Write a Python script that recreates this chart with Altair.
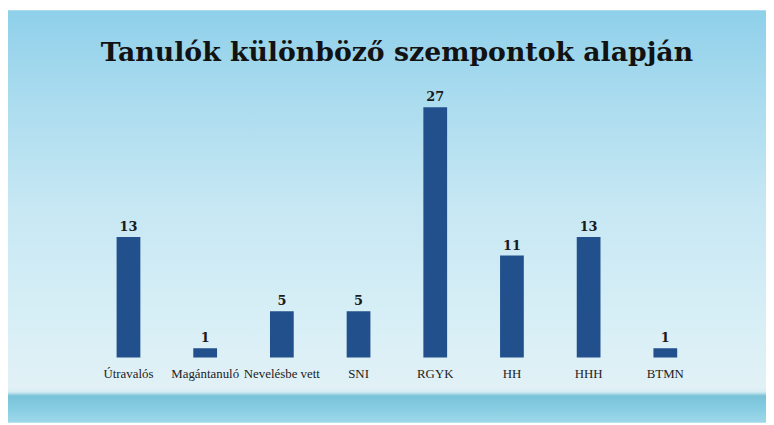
import altair as alt
import pandas as pd

categories = ["Útravalós", "Magántanuló", "Nevelésbe vett", "SNI", "RGYK", "HH", "HHH", "BTMN"]
values = [13, 1, 5, 5, 27, 11, 13, 1]
title_text = "Tanulók különböző szempontok alapján"

df = pd.DataFrame({"kategoria": categories, "ertek": values})

W, H = 620, 253
PAD_L, PAD_T = 83, 98
TOT_W, TOT_H = 766, 417

x = alt.X("kategoria:N", sort=categories,
          scale=alt.Scale(paddingInner=0, paddingOuter=0),
          axis=alt.Axis(title=None, labelAngle=0, domain=False, ticks=False, zindex=2,
                        labelFont="Liberation Serif", labelFontSize=13,
                        labelColor="#222222", labelPadding=10))
y = alt.Y("ertek:Q", scale=alt.Scale(domain=[0, 27], nice=False), axis=None)

bg = alt.Chart(pd.DataFrame({"a": [0]})).mark_rect(
    fill=alt.Gradient(
        gradient="linear", x1=0, x2=0, y1=0, y2=1,
        stops=[
            alt.GradientStop(color="#8fd0ea", offset=0),
            alt.GradientStop(color="#abdcef", offset=0.22),
            alt.GradientStop(color="#c6e7f3", offset=0.47),
            alt.GradientStop(color="#d5eef6", offset=0.71),
            alt.GradientStop(color="#e1f1f6", offset=0.915),
            alt.GradientStop(color="#d6edf3", offset=0.925),
            alt.GradientStop(color="#78c2d8", offset=0.935),
            alt.GradientStop(color="#86cde2", offset=0.965),
            alt.GradientStop(color="#9fd8ea", offset=1),
        ],
    )
).encode(x=alt.value(-PAD_L), x2=alt.value(TOT_W - PAD_L),
         y=alt.value(-PAD_T), y2=alt.value(TOT_H - PAD_T))

bars = alt.Chart(df).mark_bar(size=24, color="#22508c").encode(x=x, y=y)

labels = alt.Chart(df).mark_text(
    dy=-10, font="DejaVu Serif", fontWeight="bold", fontSize=13, color="#1a1a1a"
).encode(x=x, y=y, text="ertek:Q")

title = alt.Chart(pd.DataFrame({"t": [title_text]})).mark_text(
    font="DejaVu Serif", fontWeight="bold", fontSize=27, color="#121212",
    baseline="alphabetic", align="center"
).encode(x=alt.value(W / 2), y=alt.value(-47), text="t:N")

chart = alt.layer(bg, bars, labels, title).properties(
    width=W, height=H,
    autosize=alt.AutoSizeParams(type="none"),
    padding={"left": PAD_L, "top": PAD_T, "right": TOT_W - PAD_L - W, "bottom": TOT_H - PAD_T - H},
).configure_view(stroke=None).configure(background="#ffffff")

chart.save("out.html", embed_options={"renderer": "svg", "actions": False})
